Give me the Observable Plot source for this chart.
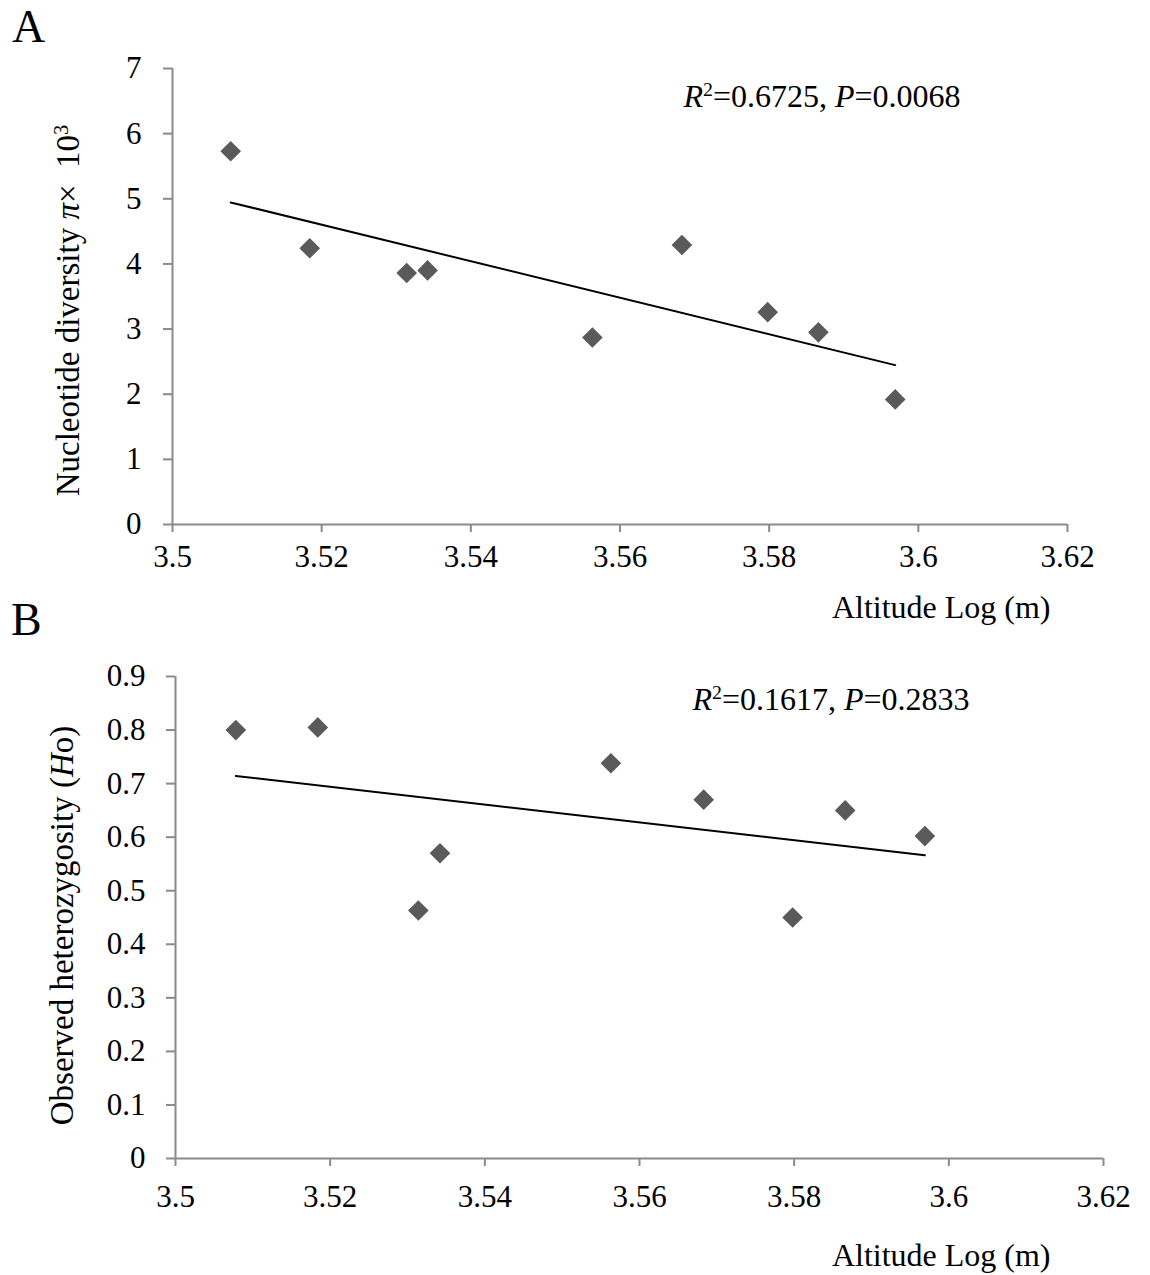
<!DOCTYPE html>
<html><head><meta charset="utf-8">
<script src="https://cdn.jsdelivr.net/npm/d3@7"></script>
<script src="https://cdn.jsdelivr.net/npm/@observablehq/plot@0.6"></script>
<style>
body{margin:0;background:#fff;font-family:"Liberation Serif","Times New Roman",serif;}
#wrap{position:relative;width:1150px;height:1275px;overflow:hidden;}
.panel{position:absolute;left:0;}
.lab{position:absolute;font-size:46px;line-height:1;color:#000;}
</style></head><body>
<div id="wrap">
<div id="pa" class="panel" style="top:0"></div>
<div id="pb" class="panel" style="top:640px"></div>
<div class="lab" style="left:12px;top:4px">A</div>
<div class="lab" style="left:11px;top:597px">B</div>
</div>
<script>
// Data
const altitude = [3.5078, 3.5184, 3.5314, 3.5342, 3.5563, 3.5683, 3.5798, 3.5866, 3.5969];
const nucleotideDiversity = [5.73, 4.24, 3.86, 3.90, 2.87, 4.29, 3.26, 2.95, 1.92];
const heterozygosity = [0.800, 0.805, 0.463, 0.570, 0.738, 0.670, 0.450, 0.650, 0.602];
const xTicks = [3.5, 3.52, 3.54, 3.56, 3.58, 3.6, 3.62];
const yTicksA = [0, 1, 2, 3, 4, 5, 6, 7];
const yTicksB = [0, 0.1, 0.2, 0.3, 0.4, 0.5, 0.6, 0.7, 0.8, 0.9];
const statsA = {r2: "0.6725", p: "0.0068"};
const statsB = {r2: "0.1617", p: "0.2833"};

const dataA = altitude.map((x, i) => ({x, y: nucleotideDiversity[i]}));
const dataB = altitude.map((x, i) => ({x, y: heterozygosity[i]}));

const GRAY = "#8a8a8a";
const DOT = "#5a5a5a";
const FONT = "Liberation Serif, Times New Roman, serif";
const FS = 31;

function rich(svg, plain, parts) {
  const t = Array.from(svg.querySelectorAll("text")).find(e => e.textContent === plain);
  if (!t) return;
  t.textContent = "";
  for (const [s, st] of parts) {
    const ts = document.createElementNS("http://www.w3.org/2000/svg", "tspan");
    ts.textContent = s;
    if (st === "i") ts.setAttribute("font-style", "italic");
    if (st === "sup") { ts.setAttribute("baseline-shift", "super"); ts.setAttribute("font-size", "0.62em"); }
    t.appendChild(ts);
  }
}

function panel(cfg) {
  return Plot.plot({
    width: 1150,
    height: cfg.height,
    marginLeft: cfg.ml, marginRight: cfg.mr, marginTop: cfg.mt, marginBottom: cfg.mb,
    style: {fontFamily: FONT, fontSize: FS + "px", background: "transparent", color: "#000", overflow: "visible"},
    x: {domain: [3.5, 3.62]},
    y: {domain: cfg.ydomain},
    marks: [
      Plot.ruleX([3.5], {stroke: GRAY, strokeWidth: 2}),
      Plot.ruleY([0], {stroke: GRAY, strokeWidth: 2}),
      Plot.axisX(xTicks, {tickSize: 8, tickPadding: cfg.xpad, stroke: GRAY, strokeWidth: 2, fill: "#000", fontSize: FS, label: null, tickFormat: d => String(d)}),
      Plot.axisY(cfg.yticks, {tickSize: 9, tickPadding: cfg.ypad, stroke: GRAY, strokeWidth: 2, fill: "#000", fontSize: FS, label: null, tickFormat: d => String(d)}),
      Plot.linearRegressionY(cfg.data, {x: "x", y: "y", ci: 0, stroke: "#000", strokeWidth: 2}),
      Plot.dot(cfg.data, {x: "x", y: "y", symbol: "diamond2", r: 9.3, fill: DOT, stroke: "none"}),
      Plot.text(["Altitude Log (m)"], {frameAnchor: "bottom-right", textAnchor: "end", lineAnchor: "middle", dx: cfg.xlabDx, dy: cfg.xlabDy, fontSize: 32, fill: "#000"}),
      Plot.text([cfg.ylabel], {frameAnchor: "left", textAnchor: "middle", lineAnchor: "middle", rotate: -90, dx: cfg.ylabDx, dy: cfg.ylabDy, fontSize: 33, fill: "#000"}),
      Plot.text([cfg.stat], {frameAnchor: "top-left", textAnchor: "start", lineAnchor: "middle", dx: cfg.statDx, dy: cfg.statDy, fontSize: 32, fill: "#000"})
    ]
  });
}

const ylabA = "Nucleotide diversity π×  10 3";
const statA = `R2=${statsA.r2}, P=${statsA.p}`;
const a = panel({
  height: 640, ml: 172, mr: 83, mt: 68, mb: 116,
  ydomain: [0, 7], yticks: yTicksA, data: dataA, xpad: 12, ypad: 22,
  xlabDx: -17, xlabDy: 83,
  ylabel: ylabA, ylabDx: -104, ylabDy: 14,
  stat: statA, statDx: 511, statDy: 28
});
rich(a, ylabA, [["Nucleotide diversity ", ""], ["π", "i"], ["×  10", ""], ["3", "sup"]]);
rich(a, statA, [["R", "i"], ["2", "sup"], ["=" + statsA.r2 + ", ", ""], ["P", "i"], ["=" + statsA.p, ""]]);
document.getElementById("pa").appendChild(a);

const ylabB = "Observed heterozygosity (Ho)";
const statB = `R2=${statsB.r2}, P=${statsB.p}`;
const b = panel({
  height: 635, ml: 175, mr: 47, mt: 36, mb: 117,
  ydomain: [0, 0.9], yticks: yTicksB, data: dataB, xpad: 18, ypad: 21,
  xlabDx: -53, xlabDy: 97,
  ylabel: ylabB, ylabDx: -113, ylabDy: 8,
  stat: statB, statDx: 517, statDy: 23
});
rich(b, ylabB, [["Observed heterozygosity (", ""], ["H", "i"], ["o)", ""]]);
rich(b, statB, [["R", "i"], ["2", "sup"], ["=" + statsB.r2 + ", ", ""], ["P", "i"], ["=" + statsB.p, ""]]);
document.getElementById("pb").appendChild(b);
</script>
</body></html>
